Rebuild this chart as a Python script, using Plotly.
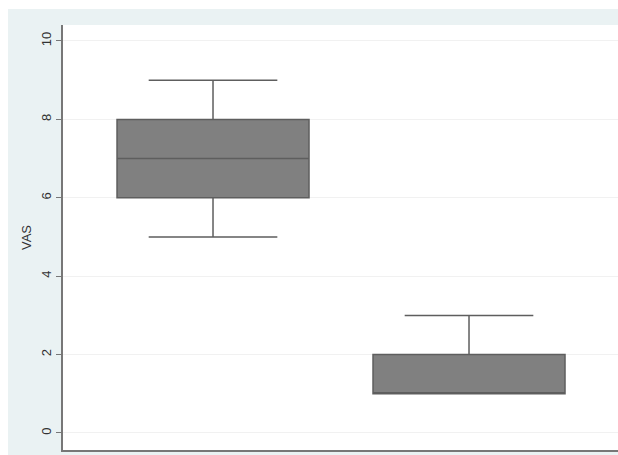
import plotly.graph_objects as go

groups = [0, 1]
q1 = [6, 1]
medians = [7, 1]
q3 = [8, 2]
lower = [5, 1]
upper = [9, 3]
y_ticks = [0, 2, 4, 6, 8, 10]

fig = go.Figure()
fig.add_trace(go.Box(
    x=groups, q1=q1, median=medians, q3=q3,
    lowerfence=lower, upperfence=upper,
    width=0.75, whiskerwidth=0.67,
    fillcolor="#808080",
    line=dict(color="#5e5e5e", width=1.5),
    boxpoints=False, showlegend=False,
))

fig.update_layout(
    width=618, height=455,
    margin=dict(l=63, r=0, t=25, b=5),
    paper_bgcolor="#eaf2f3",
    plot_bgcolor="white",
    font=dict(family="Liberation Sans, Arial, sans-serif", size=12, color="#333"),
    xaxis=dict(range=[-0.586, 1.582], showticklabels=False, ticks="",
               showgrid=False, zeroline=False, showline=True,
               linecolor="#777", linewidth=1.5),
    yaxis=dict(range=[-0.434, 10.408], tickvals=y_ticks, tickangle=-90,
               tickfont=dict(size=13),
               ticks="outside", ticklen=5, tickcolor="#777",
               showgrid=True, gridcolor="#f1f1f1", zeroline=False,
               showline=True, linecolor="#777", linewidth=1.5,
               title=dict(text="VAS", standoff=4, font=dict(size=13))),
    shapes=[
        dict(type="rect", xref="paper", yref="paper", x0=-0.3, x1=1.2,
             y0=1.0376, y1=1.3, fillcolor="white", line=dict(width=0), layer="below"),
        dict(type="rect", xref="paper", yref="paper", x0=-0.3, x1=-0.0991,
             y0=-0.2, y1=1.3, fillcolor="white", line=dict(width=0), layer="below"),
    ],
)

fig.write_html("out.html")
